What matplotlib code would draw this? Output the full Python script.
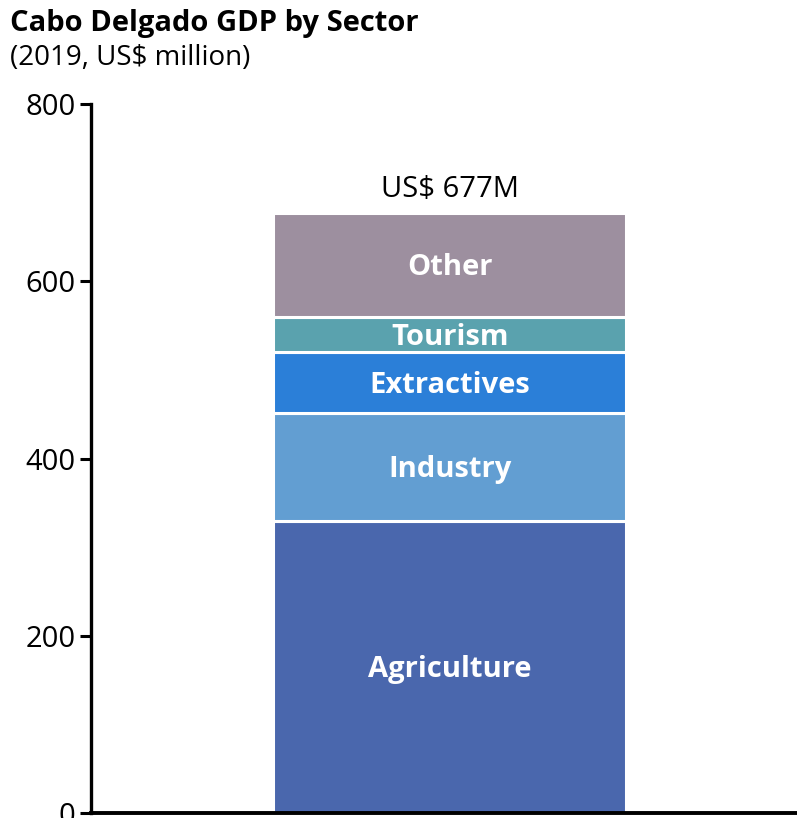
import matplotlib.pyplot as plt

# Cabo Delgado GDP by sector, 2019 (US$ million)
sectors = ['Agriculture', 'Industry', 'Extractives', 'Tourism', 'Other']
values = [330, 121, 69, 40, 117]
colors = ['#4a67ad', '#629ed2', '#2b7fd8', '#5aa2ae', '#9d8f9f']
total = sum(values)

plt.rcParams['font.family'] = ['Open Sans', 'DejaVu Sans']

fig = plt.figure(figsize=(7.97, 8.18), dpi=100)
ax = fig.add_axes([0.1142, 0.0061, 0.8858, 0.8667])

bottom = 0
for name, val, col in zip(sectors, values, colors):
    ax.bar(0, val, width=0.5, bottom=bottom, color=col, edgecolor='white', linewidth=2.2)
    # label sits in the middle of its segment, nudged down a little
    ax.annotate(name, (0, bottom + val / 2), xytext=(0, -3), textcoords='offset pixels',
                ha='center', va='center', color='white', fontsize=21, fontweight='bold')
    bottom += val

ax.text(0, total + 10, f'US$ {total}M', ha='center', va='bottom', fontsize=21)

ax.set_xlim(-0.508, 0.492)
ax.set_ylim(0, 800)
ax.set_yticks([0, 200, 400, 600, 800])
ax.set_xticks([])
ax.tick_params(axis='y', length=8, width=2.2, labelsize=21, pad=3)
for side in ['top', 'right']:
    ax.spines[side].set_visible(False)
ax.spines['left'].set_linewidth(2.4)
ax.spines['bottom'].set_linewidth(2.8)

fig.text(0.012, 0.971, 'Cabo Delgado GDP by Sector', fontsize=21, fontweight='bold', va='center')
fig.text(0.012, 0.929, '(2019, US$ million)', fontsize=20, va='center')

fig.savefig('out.png', dpi=100)
